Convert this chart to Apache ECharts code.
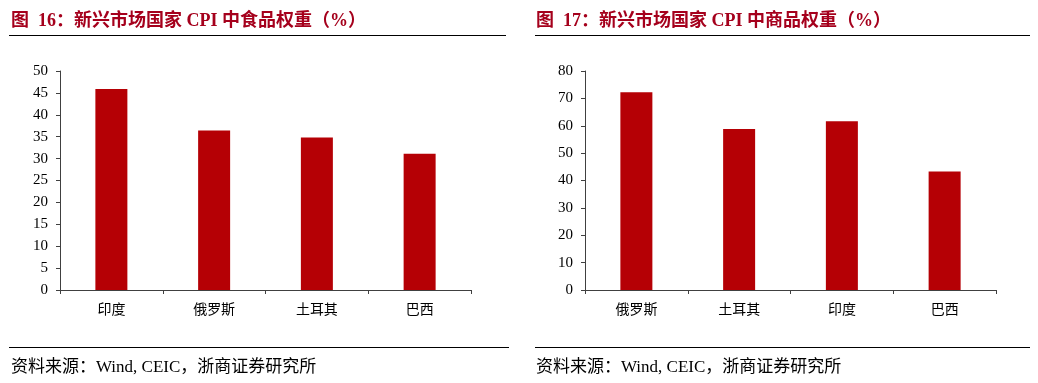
<!DOCTYPE html>
<html>
<head>
<meta charset="utf-8">
<script src="https://cdn.jsdelivr.net/npm/echarts@6/dist/echarts.min.js"></script>
<style>
html,body{margin:0;padding:0;background:#fff;}
#c{width:1038px;height:383px;}
</style>
</head>
<body>
<div id="c"></div>
<script>
const titleLeft = '图  16：新兴市场国家 CPI 中食品权重（%）';
const titleRight = '图  17：新兴市场国家 CPI 中商品权重（%）';
const sourceText = '资料来源：Wind, CEIC，浙商证券研究所';

const foodCategories = ['印度', '俄罗斯', '土耳其', '巴西'];
const foodValues = [45.9, 36.4, 34.8, 31.1];

const goodsCategories = ['俄罗斯', '土耳其', '印度', '巴西'];
const goodsValues = [72.2, 58.8, 61.6, 43.3];

const leftAxis = { min: 0, max: 50, interval: 5 };
const rightAxis = { min: 0, max: 80, interval: 10 };

const serif = '"Liberation Serif", "Times New Roman", "Noto Sans CJK SC", serif';
const cjk = '"Liberation Serif", "Noto Sans CJK SC", serif';
const titleColor = '#A5001C';
const barColor = '#B50005';
const axisColor = '#404040';

const chart = echarts.init(document.getElementById('c'), null, { renderer: 'canvas' });

function xAxisDef(gi, cats) {
  return {
    type: 'category', gridIndex: gi, data: cats,
    axisLine: { show: true, lineStyle: { color: axisColor, width: 1 } },
    axisTick: { show: true, length: 4, alignWithLabel: false, lineStyle: { color: axisColor } },
    axisLabel: { color: '#000', fontFamily: cjk, fontSize: 14, margin: 13 },
    splitLine: { show: false }
  };
}
function yAxisDef(gi, ax) {
  return {
    type: 'value', gridIndex: gi, min: ax.min, max: ax.max, interval: ax.interval,
    axisLine: { show: true, lineStyle: { color: axisColor, width: 1 } },
    axisTick: { show: true, length: 4, lineStyle: { color: axisColor } },
    axisLabel: { color: '#000', fontFamily: serif, fontSize: 15, margin: 12 },
    splitLine: { show: false }
  };
}

chart.setOption({
  animation: false,
  backgroundColor: '#fff',
  title: [
    { text: titleLeft, left: 6, top: 7, textStyle: { color: titleColor, fontFamily: cjk, fontSize: 18, fontWeight: 'bold' } },
    { text: titleRight, left: 531, top: 7, textStyle: { color: titleColor, fontFamily: cjk, fontSize: 18, fontWeight: 'bold' } },
    { text: sourceText, left: 6, top: 354, textStyle: { color: '#000', fontFamily: cjk, fontSize: 17, fontWeight: 'normal' } },
    { text: sourceText, left: 531, top: 354, textStyle: { color: '#000', fontFamily: cjk, fontSize: 17, fontWeight: 'normal' } }
  ],
  graphic: [
    { type: 'line', shape: { x1: 9, y1: 35.5, x2: 506, y2: 35.5 }, style: { stroke: '#000', lineWidth: 1.2 } },
    { type: 'line', shape: { x1: 535, y1: 35.5, x2: 1030, y2: 35.5 }, style: { stroke: '#000', lineWidth: 1.2 } },
    { type: 'line', shape: { x1: 9, y1: 347.5, x2: 509, y2: 347.5 }, style: { stroke: '#000', lineWidth: 1.2 } },
    { type: 'line', shape: { x1: 535, y1: 347.5, x2: 1030, y2: 347.5 }, style: { stroke: '#000', lineWidth: 1.2 } }
  ],
  grid: [
    { left: 60, right: 567, top: 71, bottom: 93 },
    { left: 585, right: 42, top: 71, bottom: 93 }
  ],
  xAxis: [xAxisDef(0, foodCategories), xAxisDef(1, goodsCategories)],
  yAxis: [yAxisDef(0, leftAxis), yAxisDef(1, rightAxis)],
  series: [
    { type: 'bar', xAxisIndex: 0, yAxisIndex: 0, data: foodValues, barWidth: 32, itemStyle: { color: barColor } },
    { type: 'bar', xAxisIndex: 1, yAxisIndex: 1, data: goodsValues, barWidth: 32, itemStyle: { color: barColor } }
  ]
});
</script>
</body>
</html>
